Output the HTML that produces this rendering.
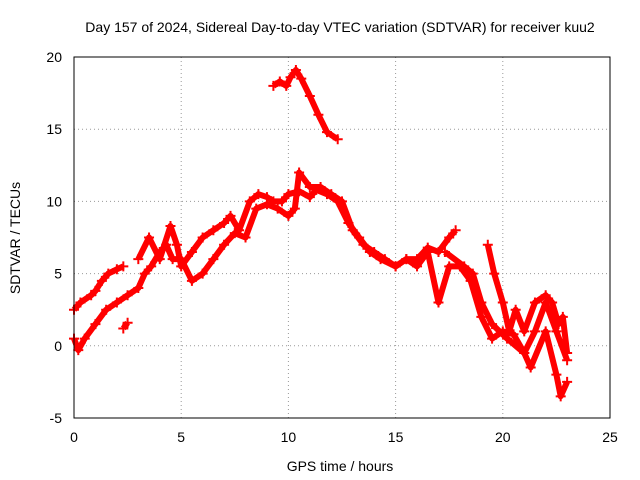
<!DOCTYPE html>
<html><head><meta charset="utf-8"><style>
body{margin:0;background:#fff;}
svg{display:block;font-family:"Liberation Sans",sans-serif;}
</style></head><body>
<svg id="chart" width="640" height="480">
<rect width="640" height="480" fill="#fff"/>
<text x="340" y="32" font-size="14" text-anchor="middle">Day 157 of 2024, Sidereal Day-to-day VTEC variation (SDTVAR) for receiver kuu2</text>
<text x="340" y="471" font-size="14" text-anchor="middle">GPS time / hours</text>
<text x="20" y="238" font-size="14" text-anchor="middle" transform="rotate(-90 20 238)">SDTVAR / TECUs</text>
<g id="grid"></g><g id="series"></g>
<rect x="74" y="57" width="536" height="361" fill="none" stroke="#000"/>
</svg>
<script>
const xTicks=[0,5,10,15,20,25];
const yTicks=[-5,0,5,10,15,20];
const segA=[[0,2.5],[0.3,3],[0.8,3.5],[1,3.8],[1.3,4.5],[1.6,5],[2,5.3],[2.3,5.5]];
const segB=[[3,6],[3.5,7.5],[4,6],[4.5,8.3],[4.8,7],[5,5.5],[5.5,6.5],[6,7.5],[6.5,8],[7,8.5],[7.3,9],[7.7,8],[8.2,10],[8.6,10.5],[9,10.3],[9.3,10],[9.7,10],[10,10.5],[10.5,10.7],[11,10.3],[11.3,10.8],[11.8,10.5],[12.3,10],[12.8,8.5],[13.3,7.5],[13.8,6.5],[14.3,6],[15,5.5],[15.5,6],[16,6],[16.5,6.8],[17,6.5],[17.5,7.5],[17.8,8]];
const segC=[[0,0.5],[0.2,-0.3],[0.5,0.5],[1,1.5],[1.5,2.5],[2,3],[2.5,3.5],[3,4],[3.3,5],[3.6,5.5],[4,6.5],[4.3,7],[4.6,6],[5,6],[5.5,4.5],[6,5],[6.5,6],[7,7],[7.5,7.8],[8,7.5],[8.5,9.5],[9,9.8],[9.5,9.5],[10,9],[10.3,9.5],[10.5,12],[11,11],[11.5,11],[12,10.5],[12.5,10],[13,8],[13.5,7],[14,6.5],[14.5,6],[15,5.5],[15.5,6],[16,5.5],[16.5,6.5],[17,3],[17.5,5.5],[18,5.5],[18.5,4.5],[19,2],[19.5,0.5],[20,1],[20.5,0.8],[21,-0.5],[21.5,1],[22,3],[22.5,1],[23,-1]];
const segD=[[9.3,18],[9.6,18.3],[9.9,18],[10.1,18.6],[10.35,19.1],[10.6,18.5],[11,17.3],[11.4,16],[11.8,14.8],[12.3,14.3]];
const segE=[[19.3,7],[19.6,5],[20,3],[20.3,1],[20.6,2.5],[21,1],[21.5,3],[22,3.5],[22.3,3],[22.6,1.5],[22.8,2],[23,-0.5]];
const segF=[[17.3,6.5],[18.2,5.5],[18.6,5],[19,3],[19.5,1.5],[20.2,0.5],[21,-0.5],[21.3,-1.5],[22,1],[22.5,-2],[22.7,-3.5],[23,-2.5]];
const segG=[[2.3,1.2],[2.5,1.6]];
const X=v=>74+v*536/25, Y=v=>418-(v+5)*361/25;
const NS='http://www.w3.org/2000/svg';
const g=document.getElementById('grid'), s=document.getElementById('series');
xTicks.forEach(t=>{
 const l=document.createElementNS(NS,'line');
 
 
 l.setAttribute('x1',X(t));l.setAttribute('x2',X(t));l.setAttribute('y1',57);l.setAttribute('y2',418);
 l.setAttribute('stroke','#999');l.setAttribute('stroke-dasharray','1,3');g.appendChild(l);
 const tx=document.createElementNS(NS,'text');
 
 
 tx.setAttribute('x',X(t));tx.setAttribute('y',442);tx.setAttribute('font-size','14');tx.setAttribute('text-anchor','middle');tx.textContent=t;g.appendChild(tx);
});
yTicks.forEach(t=>{
 const l=document.createElementNS(NS,'line');
 
 
 l.setAttribute('x1',74);l.setAttribute('x2',610);l.setAttribute('y1',Y(t));l.setAttribute('y2',Y(t));
 l.setAttribute('stroke','#999');l.setAttribute('stroke-dasharray','1,3');g.appendChild(l);
 const tx=document.createElementNS(NS,'text');
 
 
 tx.setAttribute('x',62);tx.setAttribute('y',Y(t)+5);tx.setAttribute('font-size','14');tx.setAttribute('text-anchor','end');tx.textContent=t;g.appendChild(tx);
});
[segA,segB,segC,segD,segE,segF,segG].forEach(seg=>{
 const p=document.createElementNS(NS,'polyline');
 
 
 p.setAttribute('points',seg.map(d=>X(d[0])+','+Y(d[1])).join(' '));
 p.setAttribute('fill','none');p.setAttribute('stroke','#f00');p.setAttribute('stroke-width','6');p.setAttribute('stroke-linejoin','round');
 s.appendChild(p);
 seg.forEach(d=>{
  const m=document.createElementNS(NS,'path');
  
  
  const x=X(d[0]),y=Y(d[1]);
  m.setAttribute('d',`M${x-5},${y}H${x+5}M${x},${y-5}V${y+5}`);
  m.setAttribute('stroke','#f00');m.setAttribute('stroke-width','2');s.appendChild(m);
 });
});
</script>
</body></html>
